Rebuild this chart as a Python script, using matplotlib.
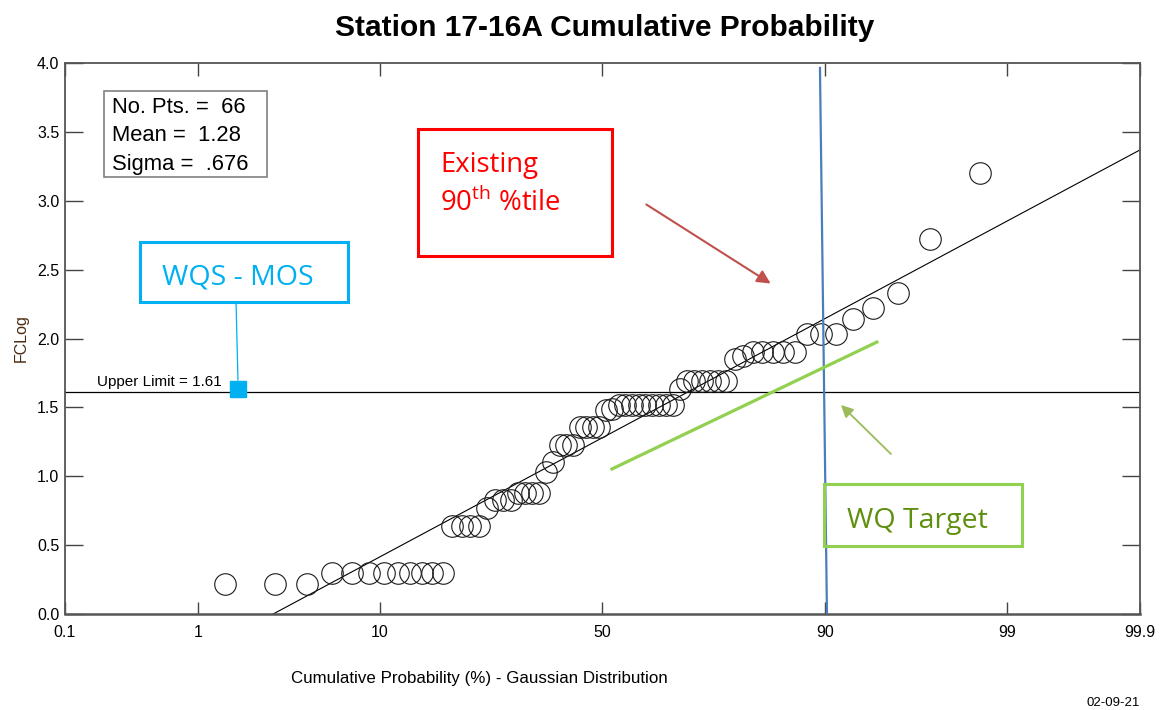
import matplotlib
matplotlib.use("Agg")
import matplotlib.pyplot as plt
from matplotlib.patches import Rectangle
from statistics import NormalDist
import numpy as np

plt.rcParams["font.family"] = ["Liberation Sans", "DejaVu Sans"]
plt.rcParams["mathtext.fontset"] = "custom"
plt.rcParams["mathtext.rm"] = "Open Sans"

# sorted FCLog values (66 points)
fc_log = [0.22, 0.22, 0.22,
          0.30, 0.30, 0.30, 0.30, 0.30, 0.30, 0.30, 0.30, 0.30,
          0.64, 0.64, 0.64, 0.64,
          0.77,
          0.83, 0.83, 0.83,
          0.88, 0.88, 0.88, 0.88,
          1.03, 1.10,
          1.23, 1.23, 1.23,
          1.36, 1.36, 1.36, 1.36,
          1.48, 1.49,
          1.52, 1.52, 1.52, 1.52, 1.52, 1.52, 1.52, 1.52, 1.52,
          1.635,
          1.69, 1.69, 1.69, 1.69, 1.69, 1.69,
          1.85, 1.87,
          1.90, 1.90, 1.90, 1.90, 1.90,
          2.03, 2.03, 2.03,
          2.14, 2.22, 2.33, 2.72, 3.20]
n_pts = 66
mean = 1.28
sigma = 0.676
upper_limit = 1.61

prob_ticks = [0.1, 1, 10, 50, 90, 99, 99.9]
prob_labels = ["0.1", "1", "10", "50", "90", "99", "99.9"]
y_ticks = [0.0, 0.5, 1.0, 1.5, 2.0, 2.5, 3.0, 3.5, 4.0]

nd = NormalDist()
rank = np.arange(1, len(fc_log) + 1)
z = [nd.inv_cdf(r / (len(fc_log) + 1)) for r in rank]

fig = plt.figure(figsize=(11.63, 7.10), dpi=100)
ax = fig.add_axes([65 / 1163, 96 / 710, 1075 / 1163, 551 / 710])

zmax = -nd.inv_cdf(0.001)
ax.set_xlim(-zmax, zmax)
ax.set_ylim(0, 4)

# data + fitted normal line
ax.plot(z, fc_log, "o", mfc="none", mec="#1a1a1a", ms=15.5, mew=0.8, zorder=3)
zz = np.array(ax.get_xlim())
ax.plot(zz, mean + sigma * zz, color="black", lw=0.8, zorder=2)
ax.axhline(upper_limit, color="black", lw=0.9)
ax.annotate("Upper Limit = 1.61", xy=(0.0298, upper_limit),
            xycoords=("axes fraction", "data"), xytext=(0, 2),
            textcoords="offset points", fontsize=11, va="bottom")

ax.set_xticks([nd.inv_cdf(p / 100) for p in prob_ticks])
ax.set_xticklabels(prob_labels)
ax.set_yticks(y_ticks)
ax.set_yticklabels(["%.1f" % v for v in y_ticks])
ax.tick_params(axis="x", direction="in", length=9, width=1, top=True,
               labelsize=11.5, pad=8, color="#444444")
ax.tick_params(axis="y", direction="in", length=13, width=1, right=True,
               labelsize=11.5, pad=4, color="#444444")
for s in ax.spines.values():
    s.set_color("#555555")
    s.set_linewidth(1.3)
ax.spines["bottom"].set_linewidth(1.8)

ax.set_ylabel("FCLog", fontsize=11.5, color="#4a2a10", labelpad=6)

# stats box
ax.add_patch(Rectangle((0.0363, 0.7931), 0.1516, 0.1561, transform=ax.transAxes,
                       fill=False, ec="#808080", lw=1.2, zorder=4))
stats = ["No. Pts. =  %d" % n_pts, "Mean =  %.2f" % mean, "Sigma =  .676"]
for i, line in enumerate(stats):
    ax.text(0.0433, 0.9093 - i * 0.0517, line, transform=ax.transAxes,
            fontsize=15.8, va="baseline")

# existing 90th percentile callout
ax.add_patch(Rectangle((0.3284, 0.6497), 0.1804, 0.2305, transform=ax.transAxes,
                       fill=False, ec="#ff0000", lw=2.2, zorder=4))
ax.text(0.3488, 0.8022, "Existing", transform=ax.transAxes, color="#ff0000",
        fontsize=19.8, family="Open Sans", va="baseline")
ax.text(0.3488, 0.7314, r"90$^{\mathrm{th}}$ %tile", transform=ax.transAxes,
        color="#ff0000", fontsize=19.8, family="Open Sans", va="baseline")
ax.annotate("", xy=(0.6586, 0.5971), xytext=(0.5386, 0.7459),
            xycoords="axes fraction",
            arrowprops=dict(arrowstyle="-|>", color="#c0504d", lw=1.5,
                            mutation_scale=20))

# 90th percentile vertical marker
ax.plot([0.7023, 0.7088], [0.991, 0.0], transform=ax.transAxes,
        color="#4a7ebb", lw=1.6, zorder=5)

# WQ target line and callout
ax.plot([0.5088, 0.7553], [0.2632, 0.4936], transform=ax.transAxes,
        color="#92d050", lw=2.3, zorder=5)
ax.annotate("", xy=(0.7200, 0.3829), xytext=(0.7702, 0.2868),
            xycoords="axes fraction",
            arrowprops=dict(arrowstyle="-|>", color="#9bbb59", lw=1.3,
                            mutation_scale=18))
ax.add_patch(Rectangle((0.7060, 0.1234), 0.1842, 0.1125, transform=ax.transAxes,
                       fill=False, ec="#92d050", lw=2.2, zorder=6))
ax.text(0.7274, 0.1561, "WQ Target", transform=ax.transAxes, color="#5f8f0f",
        fontsize=20.5, family="Open Sans", va="baseline")

# WQS - MOS callout
ax.add_patch(Rectangle((0.0698, 0.5662), 0.1935, 0.1089, transform=ax.transAxes,
                       fill=False, ec="#00b0f0", lw=2.2, zorder=4))
ax.text(0.0902, 0.5971, "WQS - MOS", transform=ax.transAxes, color="#00b0f0",
        fontsize=20.5, family="Open Sans", va="baseline")
ax.plot([0.1591, 0.1609], [0.5662, 0.4247], transform=ax.transAxes,
        color="#00b0f0", lw=0.9)
ax.plot([0.1609], [0.4083], "s", transform=ax.transAxes, color="#00b0f0",
        ms=11.5, zorder=6)

fig.text(605 / 1163, 1 - 36 / 710, "Station 17-16A Cumulative Probability",
         ha="center", va="baseline", fontsize=21.5, fontweight="bold")
fig.text(479 / 1163, 1 - 678 / 710,
         "Cumulative Probability (%) - Gaussian Distribution",
         ha="center", va="center", fontsize=12.2)
fig.text(1140 / 1163, 1 - 703 / 710, "02-09-21", ha="right", va="center",
         fontsize=9.5)

fig.savefig("out.png", dpi=100)
